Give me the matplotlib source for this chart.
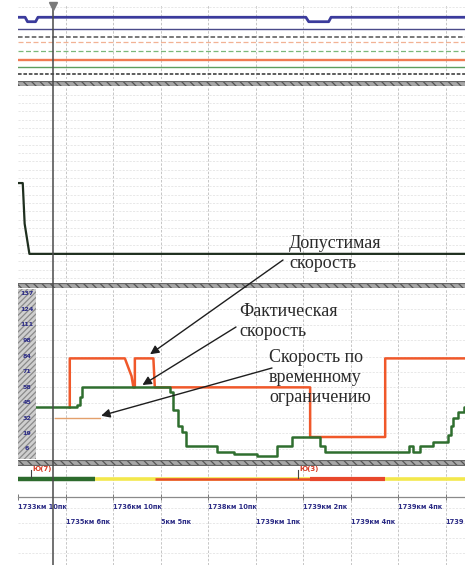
import matplotlib
matplotlib.use('Agg')
import matplotlib.pyplot as plt
import matplotlib.transforms as mtransforms
from matplotlib.patches import Rectangle
from matplotlib.lines import Line2D
import numpy as np

plt.rcParams['hatch.linewidth'] = 0.9

# --- data -------------------------------------------------------------
# x is measured in tick intervals along the track (0 = left edge of the record)
x_end = 9.41
cursor_x = 0.74

# discrete signal channels (top strip)
blue_x = [0, 0.15, 0.20, 0.37, 0.42, 6.06, 6.12, 6.54, 6.59, x_end]
blue_y = [8.23, 8.23, 7.64, 7.64, 8.23, 8.23, 7.64, 7.64, 8.23, 8.23]
signal_levels = [6.67, 5.64, 4.89, 3.69, 2.57, 1.64, 0.67]

# analog channel (middle strip)
mid_x = [0, 0.10, 0.14, 0.24, x_end]
mid_y = [51, 51, 30, 14.5, 14.5]

# speed, km/h
actual_x = [0, 1.24, 1.31, 1.35, 3.20, 3.27, 3.36, 3.45, 3.53, 4.19, 4.55, 5.03,
            5.45, 5.77, 6.36, 6.46, 8.24, 8.32, 8.46, 8.74, 9.05, 9.12, 9.16,
            9.26, 9.38, x_end]
actual_v = [41, 43, 50, 58, 54, 39, 25, 20, 8, 3.5, 2, 0,
            8, 16, 8, 3.5, 8, 3.5, 8, 12, 18, 25, 32,
            37, 41, 41]
limit_x = [1.09, 1.09, 2.25, 2.39, 2.43, 2.46, 2.46, 2.85, 2.88, 6.15, 6.15, 7.73, 7.73, x_end]
limit_v = [41, 82.5, 82.5, 67.5, 58, 58, 82.5, 82.5, 58, 58, 16, 16, 82.5, 82.5]
restrict_x = [0.78, 1.73]
restrict_v = [32, 32]
speed_ticks = [6, 19, 32, 45, 58, 71, 84, 98, 111, 124, 137]

# signal state band
band_start = [0, 1.62, 2.88, 6.15]
band_end = [1.62, x_end, 6.15, 7.73]
events_x = [0.27, 5.89]
events_lbl = ['Ю(7)', 'Ю(3)']

# track coordinate labels
km_major = ['1733км 10пк', '1736км 10пк', '1738км 10пк', '1739км 2пк', '1739км 4пк']
km_minor = ['1735км 6пк', '5км 5пк', '1739км 1пк', '1739км 4пк', '1739']

# --- layout -----------------------------------------------------------
W, H = 465, 565
X0 = 18
fig = plt.figure(figsize=(W / 100, H / 100), dpi=100)
fig.patch.set_facecolor('white')

vgrid = dict(color='#bdbdbd', lw=0.6, ls=(0, (3, 2)), zorder=0)
hgrid = dict(color='#dedede', lw=0.5, ls=(0, (3, 2)), zorder=0)


def panel(top, bottom):
    ax = fig.add_axes([X0 / W, 1 - bottom / H, 1 - X0 / W, (bottom - top) / H])
    ax.set_xlim(0, x_end)
    for s in ax.spines.values():
        s.set_visible(False)
    ax.set_xticks([])
    ax.set_yticks([])
    ax.set_facecolor('none')
    for u in range(1, 10):
        ax.axvline(u, **vgrid)
    return ax


def separator(top, bottom):
    ax = fig.add_axes([X0 / W, 1 - bottom / H, 1 - X0 / W, (bottom - top) / H])
    ax.axis('off')
    ax.add_patch(Rectangle((0, 0), 1, 1, transform=ax.transAxes,
                           facecolor='#a8a8a8', edgecolor='#555555',
                           hatch='\\\\\\\\', lw=0))
    ax.axhline(0.02, color='#666666', lw=0.9)
    ax.axhline(0.98, color='#666666', lw=0.9)


# top strip: discrete channels
ax_sig = panel(4, 79)
ax_sig.set_ylim(0, 10)
ax_sig.axhline(9.6, **hgrid)
ax_sig.plot(blue_x, blue_y, color='#3b3b9c', lw=2, solid_joinstyle='round')
sig_styles = [
    dict(color='#4a4a8a', lw=1.0),
    dict(color='#555555', lw=1.1, ls=(0, (3, 1.5))),
    dict(color='#f2b294', lw=0.9, ls=(0, (4, 2))),
    dict(color='#7ab87a', lw=0.9, ls=(0, (4, 2))),
    dict(color='#f07a52', lw=1.7),
    dict(color='#5d9d5d', lw=1.0),
    dict(color='#505050', lw=1.3, ls=(0, (2, 1))),
]
for lvl, st in zip(signal_levels, sig_styles):
    ax_sig.axhline(lvl, **st)

separator(80.5, 86)

# middle strip
ax_mid = panel(88, 282)
ax_mid.set_ylim(0, 100)
for yy in np.arange(2, 100, 4.3):
    ax_mid.axhline(yy, **hgrid)
ax_mid.plot(mid_x, mid_y, color='#1f2f1f', lw=1.6)

separator(282.5, 288)

# speed strip
ax_spd = panel(289, 459)
ax_spd.set_ylim(-2.6, 141.2)
for v in speed_ticks:
    ax_spd.axhline(v, **hgrid)
ax_spd.plot(restrict_x, restrict_v, color='#e3a06c', lw=1.0, zorder=2)
ax_spd.plot(limit_x, limit_v, color='#f0582a', lw=1.8, zorder=3)
ax_spd.plot(actual_x, actual_v, color='#2f6e2f', lw=1.8, drawstyle='steps-post', zorder=4)

ytr = mtransforms.blended_transform_factory(ax_spd.transAxes, ax_spd.transData)
ax_spd.add_patch(Rectangle((0, -2.6), 18 / (W - X0), 143.8, transform=ytr,
                           facecolor='#cfcfcf', edgecolor='#8a8a8a',
                           hatch='//////', lw=0, zorder=5))
for v in speed_ticks:
    ax_spd.text(9 / (W - X0), v, str(v), transform=ytr, ha='center', va='center',
                fontsize=4.6, fontweight='bold', color='#2c2c86', zorder=6)

separator(460, 465.5)

# faint grid under the coordinate scale
ax_bot = panel(497, 565)
ax_bot.set_ylim(0, 1)
for yy in [0.18, 0.4, 0.62, 0.84]:
    ax_bot.axhline(yy, **hgrid)

# state band with events and the coordinate scale
ax_evt = panel(466, 497)
ax_evt.set_ylim(0, 1)
band_styles = [
    dict(color='#2d6b2d', lw=3.2),
    dict(color='#f3e84c', lw=2.6),
    dict(color='#e8482c', lw=1.8),
    dict(color='#e8482c', lw=3.0),
]
for x1, x2, st in zip(band_start, band_end, band_styles):
    ax_evt.plot([x1, x2], [0.58, 0.58], solid_capstyle='butt', **st)
for ex, lbl in zip(events_x, events_lbl):
    ax_evt.plot([ex, ex], [0.6, 0.87], color='#444444', lw=0.8)
    ax_evt.text(ex + 0.04, 0.9, lbl, fontsize=5, fontweight='bold', color='#d8402a',
                va='center', ha='left')

ax_evt.spines['bottom'].set_visible(True)
ax_evt.spines['bottom'].set_color('#8a8a8a')
ax_evt.spines['bottom'].set_linewidth(0.9)
ax_evt.set_xticks(range(0, 10, 2))
ax_evt.set_xticklabels(km_major)
ax_evt.set_xticks(range(1, 10, 2), minor=True)
ax_evt.set_xticklabels(km_minor, minor=True)
ax_evt.tick_params(axis='x', which='both', direction='inout', length=4, width=0.7,
                   color='#777777', labelsize=4.8, labelcolor='#2c2c86')
ax_evt.tick_params(axis='x', which='major', pad=3)
ax_evt.tick_params(axis='x', which='minor', pad=14)
for t in ax_evt.get_xticklabels() + ax_evt.get_xticklabels(minor=True):
    t.set_ha('left')
    t.set_fontweight('bold')

# cursor through all strips
ctr = mtransforms.blended_transform_factory(ax_spd.transData, fig.transFigure)
fig.add_artist(Line2D([cursor_x, cursor_x], [0, 1 - 8 / H], transform=ctr,
                      color='#4a4a4a', lw=1.1, zorder=10))
fig.add_artist(Line2D([cursor_x], [1 - 6 / H], transform=ctr, marker='v',
                      markersize=6, color='#7a7a7a', zorder=11))

# callouts
serif = dict(family='Liberation Serif', fontsize=13, color='#2a2a2a')
notes = [
    (289, 244, 'Допустимая'), (289, 264, 'скорость'),
    (239, 312, 'Фактическая'), (239, 331, 'скорость'),
    (269, 357, 'Скорость по'), (269, 377, 'временному'), (269, 398, 'ограничению'),
]
for px, py, s in notes:
    fig.text(px / W, 1 - py / H, s, va='center', ha='left', zorder=12, **serif)

arrow = dict(arrowstyle='-|>', color='#1e1e1e', lw=1.0, mutation_scale=13,
             shrinkA=0, shrinkB=0)
ax_spd.annotate('', xy=(2.78, 86), xytext=(283, H - 260),
                textcoords='figure pixels', arrowprops=arrow, zorder=12)
ax_spd.annotate('', xy=(2.62, 60), xytext=(236, H - 327),
                textcoords='figure pixels', arrowprops=arrow, zorder=12)
ax_spd.annotate('', xy=(1.75, 34), xytext=(272, H - 368),
                textcoords='figure pixels', arrowprops=arrow, zorder=12)

fig.savefig('out.png', dpi=100)
